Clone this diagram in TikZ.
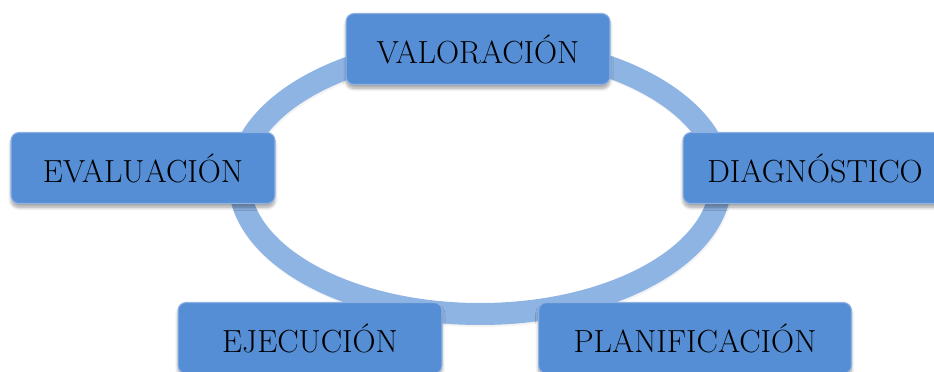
\documentclass[tikz,border=0pt]{standalone}
\usepackage{fontspec}
\usetikzlibrary{shadows.blur}

\definecolor{boxblue}{HTML}{558ED5}
\definecolor{boxedge}{HTML}{8FB1E2}
\definecolor{ringblue}{HTML}{8EB4E3}

\tikzset{
    stage/.style={rectangle, rounded corners=0.16cm, fill=boxblue, draw=boxedge, line width=0.6pt,
        minimum width=5.28cm, minimum height=1.42cm, font=\fontsize{18.2}{21}\selectfont,
        blur shadow={shadow xshift=0pt, shadow yshift=-0.08cm, shadow blur steps=8, shadow opacity=35}},
    ring/.style={draw=ringblue, line width=0.44cm}
}

\begin{document}
\begin{tikzpicture}[x=0.02cm, y=-0.02cm]
    \useasboundingbox (0,0) rectangle (934,372);

    % cycle ring behind the stages
    \draw[line width=0.44cm, black!12, opacity=0.4] (481,182) ellipse [x radius=241, y radius=134];
    \draw[ring] (480,180) ellipse [x radius=241, y radius=134];

    % stages
    \node[stage] (val)  at (478,49)  {VALORACIÓN};
    \node[stage] (eval) at (143,168) {EVALUACIÓN};
    \node[stage] (diag) at (815,168) {DIAGNÓSTICO};
    \node[stage] (ejec) at (310,338) {EJECUCIÓN};
    \node[stage, minimum width=6.26cm] (plan) at (695,338) {PLANIFICACIÓN};
\end{tikzpicture}
\end{document}
